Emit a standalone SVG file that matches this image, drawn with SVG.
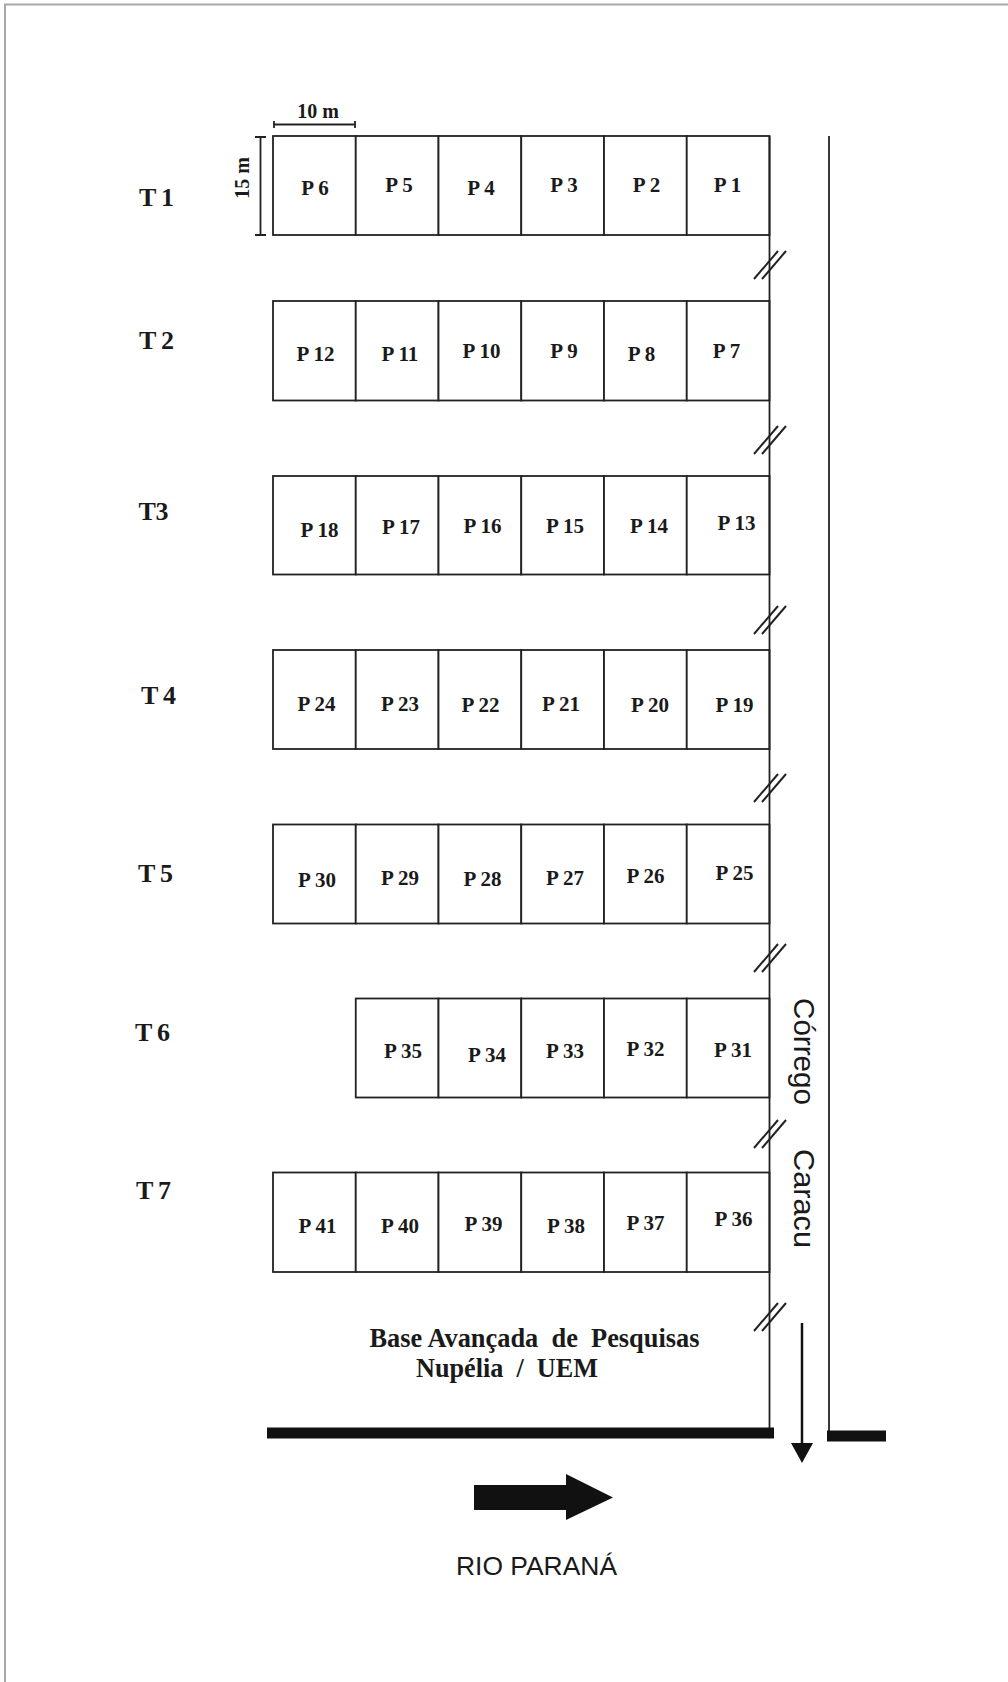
<svg xmlns="http://www.w3.org/2000/svg" width="1008" height="1682" viewBox="0 0 1008 1682">
<style>
.cell{fill:#fff;stroke:#222;stroke-width:1.8}
.p{font-family:"Liberation Serif",serif;font-weight:bold;font-size:21px;fill:#1a1a1a;text-anchor:middle}
.t{font-family:"Liberation Serif",serif;font-weight:bold;font-size:26px;fill:#1a1a1a;text-anchor:middle}
.ln{stroke:#222;stroke-width:1.8;fill:none}
.brk{stroke:#222;stroke-width:2;fill:none}
.sans{font-family:"Liberation Sans",Arial,sans-serif;fill:#1a1a1a}
</style>
<defs>
<g id="brk"><line class="brk" x1="-16" y1="14" x2="8" y2="-14"/><line class="brk" x1="-8" y1="14" x2="16" y2="-14"/></g>
</defs>
<rect width="1008" height="1682" fill="#fff"/>
<path d="M5,1682 V4.5 H1008" fill="none" stroke="#a8a8a8" stroke-width="2"/>

<g id="scale">
<text x="318" y="118" font-family="Liberation Serif,serif" font-weight="bold" font-size="20" text-anchor="middle" fill="#1a1a1a">10 m</text>
<path class="ln" d="M274,124.5 H355 M274,121 V128 M355,121 V128"/>
<path class="ln" d="M260.5,137 V235 M255,137 H266 M255,235 H266"/>
<text transform="translate(249,178) rotate(-90)" font-family="Liberation Serif,serif" font-weight="bold" font-size="20" text-anchor="middle" fill="#1a1a1a">15 m</text>
</g>

<g id="T1">
<text class="t" x="156.5" y="206" textLength="35">T 1</text>
<g id="P6"><rect class="cell" x="273" y="136" width="82.75" height="99"/><text class="p" x="315" y="195">P 6</text></g>
<g id="P5"><rect class="cell" x="355.75" y="136" width="82.75" height="99"/><text class="p" x="399" y="192">P 5</text></g>
<g id="P4"><rect class="cell" x="438.5" y="136" width="82.75" height="99"/><text class="p" x="481" y="195">P 4</text></g>
<g id="P3"><rect class="cell" x="521.25" y="136" width="82.75" height="99"/><text class="p" x="564" y="192">P 3</text></g>
<g id="P2"><rect class="cell" x="604" y="136" width="82.75" height="99"/><text class="p" x="646.5" y="192">P 2</text></g>
<g id="P1"><rect class="cell" x="686.75" y="136" width="82.75" height="99"/><text class="p" x="727.5" y="192">P 1</text></g>
</g>

<g id="T2">
<text class="t" x="156.5" y="349" textLength="35">T 2</text>
<g id="P12"><rect class="cell" x="273" y="301" width="82.75" height="99.5"/><text class="p" x="315.5" y="361">P 12</text></g>
<g id="P11"><rect class="cell" x="355.75" y="301" width="82.75" height="99.5"/><text class="p" x="400" y="361">P 11</text></g>
<g id="P10"><rect class="cell" x="438.5" y="301" width="82.75" height="99.5"/><text class="p" x="481.5" y="358">P 10</text></g>
<g id="P9"><rect class="cell" x="521.25" y="301" width="82.75" height="99.5"/><text class="p" x="564" y="358">P 9</text></g>
<g id="P8"><rect class="cell" x="604" y="301" width="82.75" height="99.5"/><text class="p" x="641.5" y="361">P 8</text></g>
<g id="P7"><rect class="cell" x="686.75" y="301" width="82.75" height="99.5"/><text class="p" x="726.5" y="357.5">P 7</text></g>
</g>

<g id="T3">
<text class="t" x="153.5" y="520" textLength="30">T3</text>
<g id="P18"><rect class="cell" x="273" y="476" width="82.75" height="98.5"/><text class="p" x="319.5" y="537">P 18</text></g>
<g id="P17"><rect class="cell" x="355.75" y="476" width="82.75" height="98.5"/><text class="p" x="401" y="534">P 17</text></g>
<g id="P16"><rect class="cell" x="438.5" y="476" width="82.75" height="98.5"/><text class="p" x="482.5" y="533">P 16</text></g>
<g id="P15"><rect class="cell" x="521.25" y="476" width="82.75" height="98.5"/><text class="p" x="565" y="533">P 15</text></g>
<g id="P14"><rect class="cell" x="604" y="476" width="82.75" height="98.5"/><text class="p" x="649" y="533">P 14</text></g>
<g id="P13"><rect class="cell" x="686.75" y="476" width="82.75" height="98.5"/><text class="p" x="736.5" y="530">P 13</text></g>
</g>

<g id="T4">
<text class="t" x="158.5" y="704" textLength="35">T 4</text>
<g id="P24"><rect class="cell" x="273" y="650" width="82.75" height="99"/><text class="p" x="316.5" y="711">P 24</text></g>
<g id="P23"><rect class="cell" x="355.75" y="650" width="82.75" height="99"/><text class="p" x="400" y="711">P 23</text></g>
<g id="P22"><rect class="cell" x="438.5" y="650" width="82.75" height="99"/><text class="p" x="480.5" y="712">P 22</text></g>
<g id="P21"><rect class="cell" x="521.25" y="650" width="82.75" height="99"/><text class="p" x="561" y="711">P 21</text></g>
<g id="P20"><rect class="cell" x="604" y="650" width="82.75" height="99"/><text class="p" x="650" y="712">P 20</text></g>
<g id="P19"><rect class="cell" x="686.75" y="650" width="82.75" height="99"/><text class="p" x="734.5" y="712">P 19</text></g>
</g>

<g id="T5">
<text class="t" x="155.5" y="882" textLength="35">T 5</text>
<g id="P30"><rect class="cell" x="273" y="824.5" width="82.75" height="99"/><text class="p" x="317" y="886.5">P 30</text></g>
<g id="P29"><rect class="cell" x="355.75" y="824.5" width="82.75" height="99"/><text class="p" x="400" y="885">P 29</text></g>
<g id="P28"><rect class="cell" x="438.5" y="824.5" width="82.75" height="99"/><text class="p" x="482.5" y="886">P 28</text></g>
<g id="P27"><rect class="cell" x="521.25" y="824.5" width="82.75" height="99"/><text class="p" x="565" y="885">P 27</text></g>
<g id="P26"><rect class="cell" x="604" y="824.5" width="82.75" height="99"/><text class="p" x="645.5" y="883">P 26</text></g>
<g id="P25"><rect class="cell" x="686.75" y="824.5" width="82.75" height="99"/><text class="p" x="734.5" y="880">P 25</text></g>
</g>

<g id="T6">
<text class="t" x="152.5" y="1041" textLength="35">T 6</text>
<g id="P35"><rect class="cell" x="355.75" y="998.5" width="82.75" height="99"/><text class="p" x="403" y="1058">P 35</text></g>
<g id="P34"><rect class="cell" x="438.5" y="998.5" width="82.75" height="99"/><text class="p" x="487" y="1062">P 34</text></g>
<g id="P33"><rect class="cell" x="521.25" y="998.5" width="82.75" height="99"/><text class="p" x="565" y="1058">P 33</text></g>
<g id="P32"><rect class="cell" x="604" y="998.5" width="82.75" height="99"/><text class="p" x="645.5" y="1056">P 32</text></g>
<g id="P31"><rect class="cell" x="686.75" y="998.5" width="82.75" height="99"/><text class="p" x="733" y="1056.5">P 31</text></g>
</g>

<g id="T7">
<text class="t" x="153.5" y="1199" textLength="35">T 7</text>
<g id="P41"><rect class="cell" x="273" y="1172.5" width="82.75" height="99.5"/><text class="p" x="317.5" y="1233">P 41</text></g>
<g id="P40"><rect class="cell" x="355.75" y="1172.5" width="82.75" height="99.5"/><text class="p" x="400" y="1233">P 40</text></g>
<g id="P39"><rect class="cell" x="438.5" y="1172.5" width="82.75" height="99.5"/><text class="p" x="483.5" y="1231">P 39</text></g>
<g id="P38"><rect class="cell" x="521.25" y="1172.5" width="82.75" height="99.5"/><text class="p" x="566" y="1233">P 38</text></g>
<g id="P37"><rect class="cell" x="604" y="1172.5" width="82.75" height="99.5"/><text class="p" x="645.5" y="1230">P 37</text></g>
<g id="P36"><rect class="cell" x="686.75" y="1172.5" width="82.75" height="99.5"/><text class="p" x="733.5" y="1226">P 36</text></g>
</g>

<g id="connectors">
<line class="ln" x1="769.5" y1="136" x2="769.5" y2="1428"/>
<line class="ln" x1="829" y1="136" x2="829" y2="1432"/>
<use href="#brk" x="770" y="265"/>
<use href="#brk" x="770" y="440"/>
<use href="#brk" x="770" y="620"/>
<use href="#brk" x="770" y="788"/>
<use href="#brk" x="770" y="958"/>
<use href="#brk" x="770" y="1134"/>
<use href="#brk" x="770" y="1317"/>
<rect x="267" y="1427.5" width="507" height="11" fill="#111"/>
<rect x="827" y="1430.5" width="59" height="11" fill="#111"/>
<line x1="802" y1="1323" x2="802" y2="1446" stroke="#111" stroke-width="2.5"/>
<polygon points="791,1443 813,1443 802,1463" fill="#111"/>
<polygon points="474,1485 566,1485 566,1474 613,1497.5 566,1520 566,1510 474,1510" fill="#111"/>
</g>

<g id="labels">
<text transform="translate(794,998) rotate(90)" class="sans" font-size="30" textLength="107" lengthAdjust="spacingAndGlyphs">Córrego</text>
<text transform="translate(794,1149) rotate(90)" class="sans" font-size="30" textLength="99" lengthAdjust="spacingAndGlyphs">Caracu</text>
<text x="369.5" y="1347" font-family="Liberation Serif,serif" font-weight="bold" font-size="27" fill="#1a1a1a" xml:space="preserve" textLength="330" lengthAdjust="spacingAndGlyphs">Base Avançada  de  Pesquisas</text>
<text x="416" y="1377" font-family="Liberation Serif,serif" font-weight="bold" font-size="27" fill="#1a1a1a" xml:space="preserve" textLength="182" lengthAdjust="spacingAndGlyphs">Nupélia  /  UEM</text>
<text x="456" y="1575" class="sans" font-size="26" textLength="161" lengthAdjust="spacingAndGlyphs">RIO PARANÁ</text>
</g>
</svg>
